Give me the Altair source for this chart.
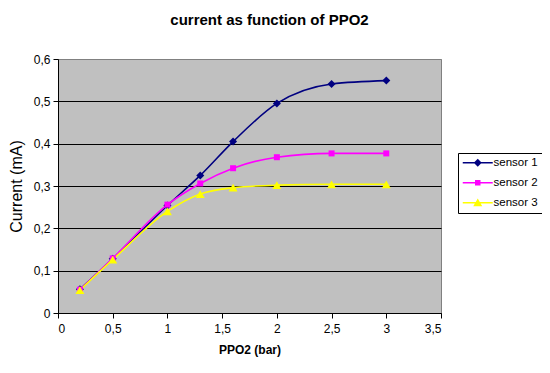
import altair as alt
import pandas as pd

# ---- data ----
ppo2 = [0.2, 0.5, 1.0, 1.3, 1.6, 2.0, 2.5, 3.0]
sensor_names = ["sensor 1", "sensor 2", "sensor 3"]
sensor1 = [0.056, 0.128, 0.254, 0.325, 0.405, 0.495, 0.541, 0.549]
sensor2 = [0.055, 0.129, 0.256, 0.306, 0.342, 0.368, 0.377, 0.377]
sensor3 = [0.054, 0.126, 0.240, 0.281, 0.296, 0.302, 0.304, 0.304]
x_ticks = [0, 0.5, 1, 1.5, 2, 2.5, 3, 3.5]
y_ticks = [0, 0.1, 0.2, 0.3, 0.4, 0.5, 0.6]

series_colors = ["#000080", "#FF00FF", "#FFFF00"]
marker_shapes = ["diamond", "square", "triangle-up"]
marker_sizes = [64, 36, 80]
# legend glyphs: a line segment with the series marker in its middle
legend_glyphs = [
    "M-1,-0.15L5,-0.15L5,0.15L-1,0.15Z M2,-0.8L2.8,0L2,0.8L1.2,0Z",
    "M-1,-0.15L5,-0.15L5,0.15L-1,0.15Z M1.45,-0.55L2.55,-0.55L2.55,0.55L1.45,0.55Z",
    "M-1,-0.15L5,-0.15L5,0.15L-1,0.15Z M2,-0.85L2.9,0.7L1.1,0.7Z",
]

rows = []
for name, vals in zip(sensor_names, [sensor1, sensor2, sensor3]):
    for xv, yv in zip(ppo2, vals):
        rows.append({"ppo2": xv, "current": yv, "sensor": name})
df = pd.DataFrame(rows)

FONT = "Liberation Sans"
comma_fmt = "replace(format(datum.value, '~g'), '.', ',')"

x_enc = alt.X(
    "ppo2:Q",
    scale=alt.Scale(domain=[0, 3.5], nice=False, zero=True),
    axis=alt.Axis(
        values=x_ticks,
        labelExpr=comma_fmt,
        title="PPO2 (bar)",
        grid=False,
        tickSize=5,
        labelPadding=5,
        titlePadding=10,
        titleFontWeight="bold",
        titleFontSize=12,
    ),
)
y_enc = alt.Y(
    "current:Q",
    scale=alt.Scale(domain=[0, 0.6], nice=False),
    axis=alt.Axis(
        values=y_ticks,
        labelExpr=comma_fmt,
        title="Current (mA)",
        grid=True,
        gridColor={"condition": {"test": "datum.value >= 0.59", "value": "#808080"}, "value": "#000000"},
        tickSize=5,
        labelPadding=3,
        titlePadding=9,
        titleFontWeight="normal",
        titleFontSize=16,
    ),
)
color_enc = alt.Color(
    "sensor:N",
    scale=alt.Scale(domain=sensor_names, range=series_colors),
    legend=alt.Legend(title=None),
)

base = alt.Chart(df)

legend_layer = (
    base.transform_filter("false")
    .mark_point(filled=True, opacity=1)
    .encode(
        x=x_enc,
        y=y_enc,
        color=color_enc,
        shape=alt.Shape(
            "sensor:N",
            scale=alt.Scale(domain=sensor_names, range=legend_glyphs),
            legend=alt.Legend(title=None),
        ),
    )
)

lines = base.mark_line(interpolate="monotone", strokeWidth=1.6).encode(
    x=x_enc, y=y_enc, color=color_enc, detail="sensor:N"
)

point_layers = []
for name, shp, sz in zip(sensor_names, marker_shapes, marker_sizes):
    point_layers.append(
        base.transform_filter(alt.datum.sensor == name)
        .mark_point(shape=shp, size=sz, filled=True, opacity=1)
        .encode(x=x_enc, y=y_enc, color=color_enc)
    )

chart = (
    alt.layer(legend_layer, lines, *point_layers)
    .properties(
        width=383,
        height=254,
        autosize=alt.AutoSizeParams(type="none"),
        padding={"left": 50, "top": 51, "right": 101, "bottom": 50},
        title=alt.TitleParams(
            "current as function of PPO2",
            fontSize=15,
            fontWeight="bold",
            font=FONT,
            color="#000000",
            anchor="middle",
            dx=20,
            offset=25,
        ),
    )
    .configure(background="#FFFFFF")
    .configure_view(fill="#C0C0C0", stroke="#808080", strokeWidth=1)
    .configure_axis(
        labelFont=FONT,
        titleFont=FONT,
        labelFontSize=12,
        labelColor="#000000",
        titleColor="#000000",
        domainColor="#000000",
        tickColor="#000000",
        domainWidth=1,
        tickWidth=1,
        gridWidth=1,
    )
    .configure_legend(
        orient="none",
        legendX=400,
        legendY=94,
        strokeColor="#000000",
        fillColor="#FFFFFF",
        padding=4,
        labelFont=FONT,
        labelFontSize=11.5,
        labelColor="#000000",
        labelOffset=20,
        symbolSize=100,
        symbolStrokeWidth=0,
        rowPadding=7,
    )
)

chart.save("out.html", embed_options={"renderer": "svg", "actions": False})
